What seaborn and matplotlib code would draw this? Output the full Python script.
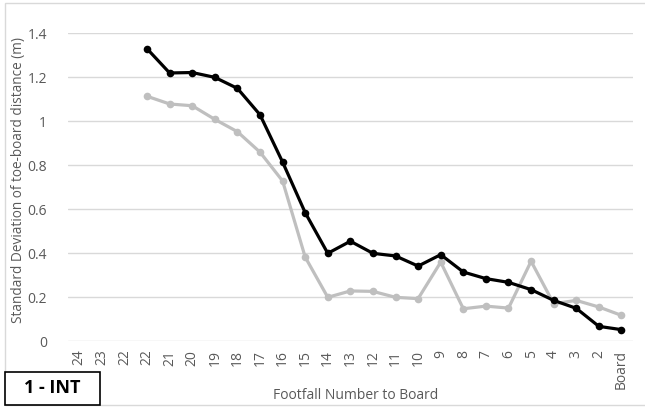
import numpy as np
import pandas as pd
import matplotlib
matplotlib.use("Agg")
import matplotlib.pyplot as plt
import seaborn as sns

# Footfall categories along the run-up (as labelled on the axis)
footfalls = ["24", "23", "22", "22", "21", "20", "19", "18", "17", "16", "15",
             "14", "13", "12", "11", "10", "9", "8", "7", "6", "5", "4", "3",
             "2", "Board"]

# Standard deviation of toe-board distance (m), from footfall 22 to the board
sd_black = [1.33, 1.22, 1.222, 1.20, 1.15, 1.03, 0.815, 0.585, 0.40, 0.455,
            0.40, 0.388, 0.342, 0.394, 0.315, 0.285, 0.268, 0.235, 0.186,
            0.15, 0.068, 0.053]
sd_grey = [1.114, 1.079, 1.071, 1.009, 0.953, 0.86, 0.729, 0.383, 0.20, 0.229,
           0.227, 0.20, 0.194, 0.36, 0.148, 0.16, 0.151, 0.364, 0.171, 0.186,
           0.156, 0.118]

yticks = [0, 0.2, 0.4, 0.6, 0.8, 1, 1.2, 1.4]
ytick_labels = ["0", "0.2", "0.4", "0.6", "0.8", "1", "1.2", "1.4"]

sns.set_theme(style="white")
plt.rcParams["font.family"] = ["Open Sans", "DejaVu Sans"]

start = len(footfalls) - len(sd_black)
pos = np.arange(start, len(footfalls))
df = pd.DataFrame({"pos": np.concatenate([pos, pos]),
                   "sd": sd_grey + sd_black,
                   "series": ["grey"] * len(sd_grey) + ["black"] * len(sd_black)})

fig = plt.figure(figsize=(6.45, 4.07), dpi=100)
ax = fig.add_axes([0.1054, 0.1614, 0.8756, 0.7566])

sns.lineplot(data=df, x="pos", y="sd", hue="series",
             palette={"grey": "#bfbfbf", "black": "#000000"},
             hue_order=["grey", "black"], marker="o", markersize=5.5,
             markeredgewidth=0, linewidth=2.3, legend=False, ax=ax)

ax.set_xlim(-0.5, len(footfalls) - 0.5)
ax.set_ylim(0, 1.4)
ax.set_yticks(yticks)
ax.set_yticklabels(ytick_labels)
ax.set_xticks(np.arange(len(footfalls)))
ax.set_xticklabels(footfalls, rotation=90)
ax.tick_params(axis="both", length=0, labelsize=10, colors="#595959")
ax.tick_params(axis="x", pad=6)
ax.tick_params(axis="y", pad=15)

ax.yaxis.grid(True, color="#d9d9d9", linewidth=1)
ax.set_axisbelow(True)
for s in ax.spines.values():
    s.set_visible(False)

ax.set_xlabel("")
ax.set_ylabel("")
fig.text(0.029, 0.558, "Standard Deviation of toe-board distance (m)",
         rotation=90, ha="center", va="center", fontsize=9.8, color="#595959")
fig.text(0.551, 0.029, "Footfall Number to Board", ha="center", va="center",
         fontsize=10, color="#595959")

# chart frame and panel tag
fig.patches.append(plt.Rectangle((0.0078, 0.005), 1.0, 0.9876, transform=fig.transFigure,
                                 fill=False, edgecolor="#d9d9d9", linewidth=1))
fig.patches.append(plt.Rectangle((0.0078, 0.005), 0.1472, 0.081, transform=fig.transFigure,
                                 facecolor="white", edgecolor="#000000", linewidth=1.2))
fig.text(0.0814, 0.046, "1 - INT", ha="center", va="center", fontsize=13,
         fontweight="bold", color="#000000")

fig.savefig("out.png", dpi=100)
